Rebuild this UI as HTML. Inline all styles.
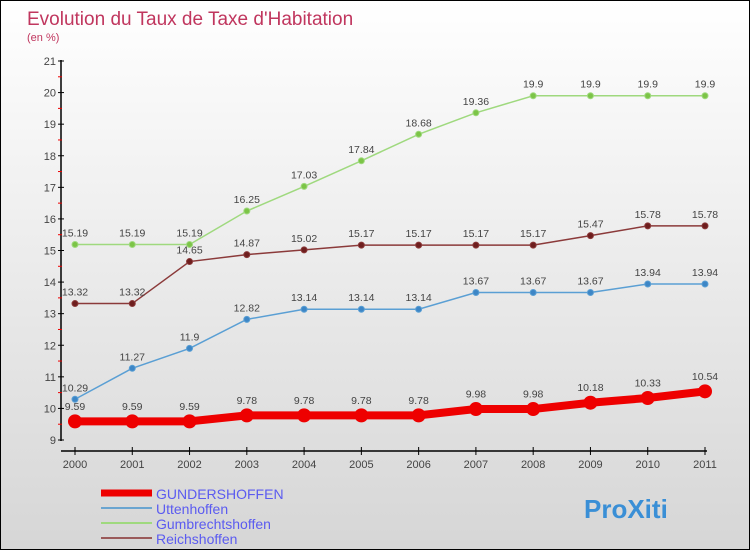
<!DOCTYPE html>
<html><head><meta charset="utf-8"><style>
body{margin:0}
#c{width:748px;height:548px;border:1px solid #000;background:linear-gradient(#fff,#d6d6d6);position:relative;font-family:"Liberation Sans",sans-serif;overflow:hidden}
svg text{font-family:"Liberation Sans",sans-serif}
</style></head><body>
<div id="c">
<svg id="s" width="748" height="548">
<text x="26" y="24" font-size="19" fill="#c0365e">Evolution du Taux de Taxe d'Habitation</text>
<text x="26" y="40" font-size="11" fill="#c0365e">(en %)</text>
<g id="g"></g>
</svg>
</div>
<script>
const years=[2000,2001,2002,2003,2004,2005,2006,2007,2008,2009,2010,2011];
const gund=[9.59,9.59,9.59,9.78,9.78,9.78,9.78,9.98,9.98,10.18,10.33,10.54];
const utten=[10.29,11.27,11.9,12.82,13.14,13.14,13.14,13.67,13.67,13.67,13.94,13.94];
const gumb=[15.19,15.19,15.19,16.25,17.03,17.84,18.68,19.36,19.9,19.9,19.9,19.9];
const reich=[13.32,13.32,14.65,14.87,15.02,15.17,15.17,15.17,15.17,15.47,15.78,15.78];
const yTicks=[9,10,11,12,13,14,15,16,17,18,19,20,21];
const NS="http://www.w3.org/2000/svg",g=document.getElementById('g');
const X=i=>74+i*(630/11), Y=v=>439-(v-9)*(379/12);
function mk(t,a){const e=document.createElementNS(NS,t);for(const k in a)e.setAttribute(k,a[k]);g.appendChild(e);return e;}
let e=mk('line',{x1:60,y1:59,x2:60,y2:440,stroke:'#000','stroke-width':1.5});

e=mk('line',{x1:60,y1:450,x2:706,y2:450,stroke:'#000','stroke-width':1.5});

yTicks.forEach((v,i)=>{const y=Y(v);
 mk('line',{x1:57,y1:y,x2:63,y2:y,stroke:'#000'});
 if(i<yTicks.length-1)mk('line',{x1:57,y1:Y(v+0.5),x2:61,y2:Y(v+0.5),stroke:'#e00'});
 const t=mk('text',{x:55,y:y+4,'font-size':11,fill:'#444','text-anchor':'end'});t.textContent=v;
 });
years.forEach((yr,i)=>{mk('line',{x1:X(i),y1:446,x2:X(i),y2:454,stroke:'#000'});
 const t=mk('text',{x:X(i),y:467,'font-size':11,fill:'#444','text-anchor':'middle'});t.textContent=yr;
 });
function series(d,col,dot,w,r,name){
 const p=mk('polyline',{points:d.map((v,i)=>X(i)+','+Y(v)).join(' '),fill:'none',stroke:col,'stroke-width':w});
 
 d.forEach((v,i)=>{const c=mk('circle',{cx:X(i),cy:Y(v),r:r,fill:dot,stroke:col});
  
  const t=mk('text',{x:X(i),y:Y(v)-(r+5),'font-size':10.5,fill:'#444','text-anchor':'middle'});t.textContent=v;
  });
}
series(gumb,'#9fd97e','#7cc447',1.5,3,'gumbrechtshoffen');
series(reich,'#8b3a3a','#6e1e1e',1.5,3,'reichshoffen');
series(utten,'#5a9fd4','#3d86c6',1.5,3,'uttenhoffen');
series(gund,'#ee0000','#e00',8,6.5,'gundershoffen');
const leg=[['GUNDERSHOFFEN','#ee0000',7],['Uttenhoffen','#6aa5d0',2],['Gumbrechtshoffen','#9fd97e',2],['Reichshoffen','#9a5a5a',2]];
leg.forEach((l,i)=>{const y=492+i*15;
 const ln=mk('line',{x1:100,y1:y,x2:151,y2:y,stroke:l[1],'stroke-width':l[2]});
 
 const t=mk('text',{x:155,y:y+6,'font-size':14,fill:'#5b5bf0'});t.textContent=l[0];
 });
const lg=mk('text',{x:583,y:517,'font-size':26,'font-weight':'bold',fill:'#3a8fd6'});lg.textContent='ProXiti';

</script>
</body></html>
